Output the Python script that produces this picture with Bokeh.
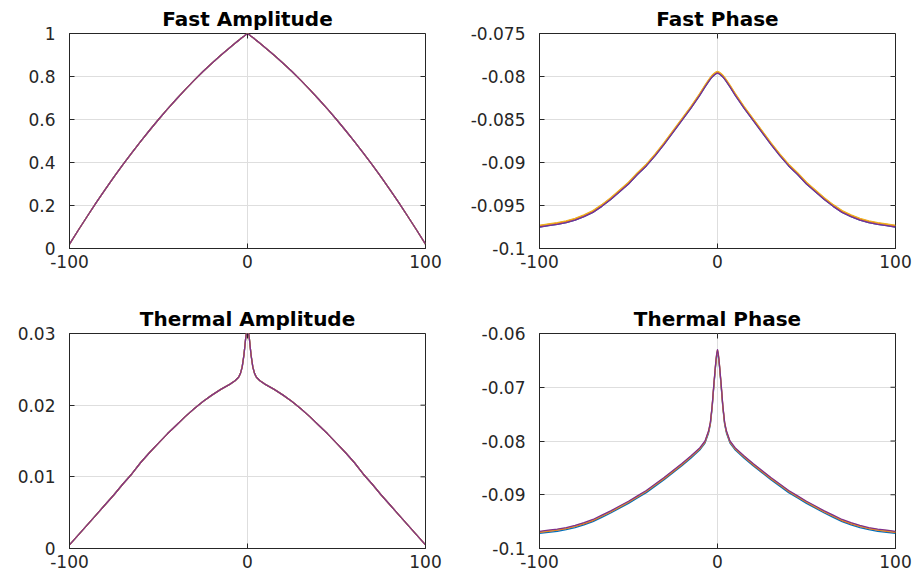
from math import pi
from bokeh.plotting import figure
from bokeh.models import ColumnDataSource, Range1d
from bokeh.layouts import column, row
from bokeh.transform import dodge
from bokeh.embed import file_html
from bokeh.resources import INLINE

# ---------------- data ----------------
x = [-100, -95, -90, -85, -80, -75, -70, -65, -60, -55, -50, -45, -40, -35, -30, -25, -20, -15, -10, -7, -5, -4, -3, -2, -1, -0.5,
     0,
     0.5, 1, 2, 3, 4, 5, 7, 10, 15, 20, 25, 30, 35, 40, 45, 50, 55, 60, 65, 70, 75, 80, 85, 90, 95, 100]

fast_amp = [0.020, 0.086, 0.150, 0.213, 0.274, 0.333, 0.390, 0.445, 0.498, 0.550, 0.600, 0.648, 0.694, 0.739, 0.782, 0.823, 0.862, 0.899, 0.934, 0.955, 0.968, 0.975, 0.981, 0.987, 0.994, 0.997,
            1.000,
            0.997, 0.994, 0.987, 0.981, 0.975, 0.968, 0.955, 0.934, 0.899, 0.862, 0.823, 0.782, 0.739, 0.694, 0.648, 0.600, 0.550, 0.498, 0.445, 0.390, 0.333, 0.274, 0.213, 0.150, 0.086, 0.020]

fast_phase = [-0.09740, -0.09725, -0.09710, -0.09690, -0.09660, -0.09620, -0.09570, -0.09500, -0.09420, -0.09330, -0.09240, -0.09130, -0.09030, -0.08910, -0.08780, -0.08640, -0.08500, -0.08360, -0.08210, -0.08110, -0.08050, -0.08020, -0.07995, -0.07975, -0.07960, -0.07955,
              -0.07950,
              -0.07955, -0.07960, -0.07975, -0.07995, -0.08020, -0.08050, -0.08110, -0.08210, -0.08360, -0.08500, -0.08640, -0.08780, -0.08910, -0.09030, -0.09130, -0.09240, -0.09330, -0.09420, -0.09500, -0.09570, -0.09620, -0.09660, -0.09690, -0.09710, -0.09725, -0.09740]

thermal_amp = [0.0005, 0.0019, 0.0033, 0.0047, 0.0061, 0.0075, 0.0090, 0.0104, 0.0120, 0.0134, 0.0147, 0.0160, 0.0172, 0.0184, 0.0195, 0.0205, 0.0214, 0.0222, 0.0229, 0.0234, 0.0239, 0.0244, 0.0253, 0.0270, 0.0294, 0.0302,
               0.0306,
               0.0302, 0.0294, 0.0270, 0.0253, 0.0244, 0.0239, 0.0234, 0.0229, 0.0222, 0.0214, 0.0205, 0.0195, 0.0184, 0.0172, 0.0160, 0.0147, 0.0134, 0.0120, 0.0104, 0.0090, 0.0075, 0.0061, 0.0047, 0.0033, 0.0019, 0.0005]

thermal_phase = [-0.0969, -0.0967, -0.0965, -0.0962, -0.0958, -0.0953, -0.0947, -0.0939, -0.0931, -0.0922, -0.0913, -0.0903, -0.0893, -0.0881, -0.0869, -0.0856, -0.0843, -0.0829, -0.0814, -0.0801, -0.0782, -0.0766, -0.0735, -0.0693, -0.0655, -0.0640,
                 -0.0631,
                 -0.0640, -0.0655, -0.0693, -0.0735, -0.0766, -0.0782, -0.0801, -0.0814, -0.0829, -0.0843, -0.0856, -0.0869, -0.0881, -0.0893, -0.0903, -0.0913, -0.0922, -0.0931, -0.0939, -0.0947, -0.0953, -0.0958, -0.0962, -0.0965, -0.0967, -0.0969]

series_colors = ["#0072BD", "#D95319", "#EDB120", "#7E2F8E"]
# small vertical separation of the four series, as seen in the picture
amp_shift = [0.0, 0.0, 0.0, 0.0]
fast_phase_shift = [-0.0001, 0.00005, 0.0001, -0.0001]
thermal_phase_shift = [-0.0003, -0.0001, 0.0, 0.0001]

x_ticks = [-100, 0, 100]
x_tick_labels = ["-100", "0", "100"]

fa_ticks = [0, 0.2, 0.4, 0.6, 0.8, 1]
fa_labels = ["0", "0.2", "0.4", "0.6", "0.8", "1"]
fp_ticks = [-0.1, -0.095, -0.09, -0.085, -0.08, -0.075]
fp_labels = ["-0.1", "-0.095", "-0.09", "-0.085", "-0.08", "-0.075"]
ta_ticks = [0, 0.01, 0.02, 0.03]
ta_labels = ["0", "0.01", "0.02", "0.03"]
tp_ticks = [-0.1, -0.09, -0.08, -0.07, -0.06]
tp_labels = ["-0.1", "-0.09", "-0.08", "-0.07", "-0.06"]

FONT = "DejaVu Sans"
DARK = "#262626"


def make(title, yvals, yrange, yticks, ylabels, shifts, w, h, bl, br, bt, bb):
    p = figure(width=w, height=h, output_backend="svg", toolbar_location=None,
               x_range=Range1d(-100, 100), y_range=Range1d(*yrange),
               min_border_left=bl, min_border_right=br, min_border_top=bt, min_border_bottom=bb)
    p.title.text = title
    p.title.align = "center"
    p.title.text_font = FONT
    p.title.text_font_size = "20px"
    p.title.text_font_style = "bold"
    p.title.text_color = "black"
    p.title.standoff = 6

    src = ColumnDataSource(dict(x=x, y=yvals))
    for c, s in zip(series_colors, shifts):
        p.line(x="x", y=dodge("y", s), source=src, line_color=c, line_width=1.3,
               line_join="round")

    # inward ticks on the right and top edges of the box
    p.ray(x=[x_ticks[-1]] * len(yticks), y=yticks, length=5, length_units="screen",
          angle=pi, line_color=DARK, line_width=1)
    p.ray(x=x_ticks, y=[yrange[1]] * len(x_ticks), length=5, length_units="screen",
          angle=-pi / 2, line_color=DARK, line_width=1)

    p.xaxis.ticker = x_ticks
    p.xaxis.major_label_overrides = {t: l for t, l in zip(x_ticks, x_tick_labels)}
    p.yaxis.ticker = yticks
    p.yaxis.major_label_overrides = {t: l for t, l in zip(yticks, ylabels)}

    for ax in p.xaxis + p.yaxis:
        ax.major_tick_in = 5
        ax.major_tick_out = 0
        ax.minor_tick_line_color = None
        ax.axis_line_color = DARK
        ax.major_tick_line_color = DARK
        ax.major_label_text_color = DARK
        ax.major_label_text_font = FONT
        ax.major_label_text_font_size = "17px"
    p.xaxis.major_label_standoff = 6
    p.yaxis.major_label_standoff = 14

    p.xgrid.grid_line_color = "#dedede"
    p.ygrid.grid_line_color = "#dedede"
    p.outline_line_color = DARK
    p.outline_line_width = 1
    p.background_fill_color = "white"
    p.border_fill_color = "white"
    return p


p1 = make("Fast Amplitude", fast_amp, (0, 1), fa_ticks, fa_labels, amp_shift,
          463, 285, 69, 38, 33, 37)
p2 = make("Fast Phase", fast_phase, (-0.1, -0.075), fp_ticks, fp_labels, fast_phase_shift,
          449, 285, 76, 17, 33, 37)
p3 = make("Thermal Amplitude", thermal_amp, (0, 0.03), ta_ticks, ta_labels, amp_shift,
          463, 292, 69, 38, 48, 29)
p4 = make("Thermal Phase", thermal_phase, (-0.1, -0.06), tp_ticks, tp_labels, thermal_phase_shift,
          449, 292, 76, 17, 48, 29)

layout = column(row(p1, p2), row(p3, p4))
open("out.html", "w").write(file_html(layout, INLINE))
